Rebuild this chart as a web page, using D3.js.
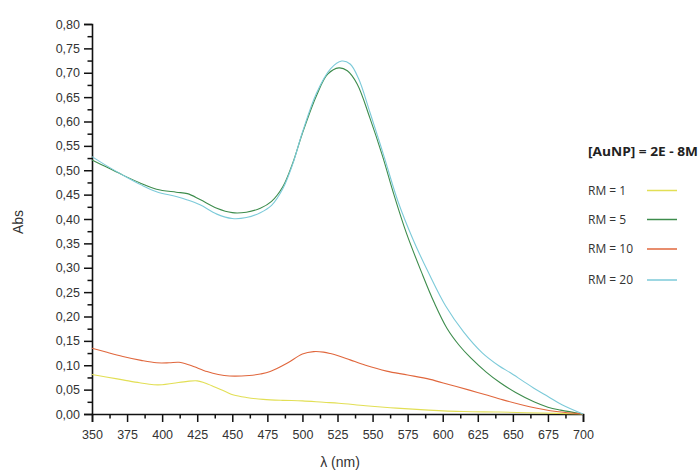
<!DOCTYPE html>
<html>
<head>
<meta charset="utf-8">
<script src="https://cdn.jsdelivr.net/npm/d3@7"></script>
<style>
  html, body { margin: 0; padding: 0; background: #fff; }
  svg { display: block; }
</style>
</head>
<body>
<svg id="chart" width="700" height="471"></svg>
<script>
// ---- data ----
const xTicks = [350, 375, 400, 425, 450, 475, 500, 525, 550, 575, 600, 625, 650, 675, 700];
const yTicks = [0, 0.05, 0.1, 0.15, 0.2, 0.25, 0.3, 0.35, 0.4, 0.45, 0.5, 0.55, 0.6, 0.65, 0.7, 0.75, 0.8];

const seriesNames = ["RM = 1", "RM = 5", "RM = 10", "RM = 20"];
const seriesColors = ["#e2df55", "#3d8c4c", "#e0673d", "#7ccad9"];

const rm1 = [[350,0.081],[360,0.076],[372,0.070],[384,0.064],[394,0.060],[400,0.060],[408,0.063],[418,0.067],[425,0.068],[430,0.064],[437,0.056],[445,0.046],[451,0.039],[460,0.034],[472,0.030],[486,0.028],[500,0.027],[515,0.024],[526,0.022],[545,0.017],[567,0.012],[590,0.008],[615,0.005],[640,0.004],[670,0.002],[700,0.000]];
const rm5 = [[350,0.521],[360,0.507],[372,0.490],[385,0.473],[396,0.461],[410,0.455],[418,0.452],[427,0.440],[439,0.422],[450,0.413],[460,0.414],[470,0.422],[478,0.436],[486,0.466],[493,0.514],[500,0.576],[510,0.653],[518,0.697],[526,0.710],[532,0.704],[539,0.677],[548,0.608],[557,0.530],[565,0.452],[574,0.372],[585,0.290],[594,0.228],[603,0.176],[612,0.140],[620,0.115],[631,0.086],[641,0.064],[652,0.044],[665,0.025],[675,0.014],[684,0.008],[700,0.000]];
const rm10 = [[350,0.135],[360,0.127],[372,0.118],[385,0.110],[396,0.105],[405,0.105],[412,0.106],[420,0.100],[432,0.087],[440,0.081],[448,0.078],[462,0.079],[470,0.082],[477,0.087],[489,0.104],[500,0.123],[508,0.128],[515,0.127],[520,0.124],[526,0.119],[534,0.111],[545,0.100],[560,0.088],[575,0.080],[591,0.071],[605,0.060],[619,0.049],[630,0.040],[643,0.029],[662,0.015],[681,0.005],[700,0.000]];
const rm20 = [[350,0.528],[360,0.510],[372,0.490],[385,0.470],[396,0.456],[410,0.446],[418,0.439],[427,0.429],[439,0.410],[450,0.401],[460,0.403],[470,0.413],[478,0.428],[486,0.462],[493,0.512],[500,0.578],[510,0.658],[520,0.708],[528,0.724],[534,0.718],[540,0.688],[548,0.620],[558,0.530],[568,0.437],[579,0.357],[590,0.289],[602,0.222],[615,0.168],[628,0.126],[640,0.099],[648,0.085],[657,0.068],[665,0.053],[675,0.036],[685,0.019],[700,0.000]];
const seriesData = [rm1, rm5, rm10, rm20];

const legendTitle = "[AuNP] = 2E - 8M";
const xTitle = "λ (nm)";
const yTitle = "Abs";

// ---- layout ----
const svg = d3.select("#chart");
const x = d3.scaleLinear().domain([350, 700]).range([92, 583]);
const y = d3.scaleLinear().domain([0, 0.8]).range([414, 24]);

const fmt = d => d3.format(".2f")(d).replace(".", ",");

// minor ticks
const xMinor = d3.range(362.5, 700, 25);
const yMinor = d3.range(0.025, 0.8, 0.05);

const gx = svg.append("g").attr("transform", "translate(0,414)");
gx.call(d3.axisBottom(x).tickValues(xMinor).tickSize(4.5).tickFormat(""));
gx.call(g => g.selectAll(".domain").remove());
const gx2 = svg.append("g").attr("transform", "translate(0,414)");
gx2.call(d3.axisBottom(x).tickValues(xTicks).tickSize(8).tickPadding(8).tickFormat(d3.format("d")));

const gy = svg.append("g").attr("transform", "translate(92,0)");
gy.call(d3.axisLeft(y).tickValues(yMinor).tickSize(4.5).tickFormat(""));
gy.call(g => g.selectAll(".domain").remove());
const gy2 = svg.append("g").attr("transform", "translate(92,0)");
gy2.call(d3.axisLeft(y).tickValues(yTicks).tickSize(8).tickPadding(4).tickFormat(fmt));

svg.selectAll(".domain").attr("stroke", "#111").attr("stroke-width", 1.6);
svg.selectAll(".tick line").attr("stroke", "#111").attr("stroke-width", 1.5);
svg.selectAll(".tick text")
  .attr("font-family", "'Liberation Sans', Arial, sans-serif")
  .attr("font-size", 12.5)
  .attr("fill", "#333");

// axis titles
svg.append("text")
  .attr("x", 340).attr("y", 467)
  .attr("text-anchor", "middle")
  .attr("font-family", "'Liberation Sans', Arial, sans-serif")
  .attr("font-size", 14).attr("fill", "#333")
  .text(xTitle);
svg.append("text")
  .attr("transform", "translate(23,222) rotate(-90)")
  .attr("text-anchor", "middle")
  .attr("font-family", "'Liberation Sans', Arial, sans-serif")
  .attr("font-size", 14).attr("fill", "#333")
  .text(yTitle);

// lines
const line = d3.line()
  .x(d => x(d[0])).y(d => y(d[1]))
  .curve(d3.curveCatmullRom.alpha(0.5));

seriesData.forEach((s, i) => {
  svg.append("path")
    .datum(s)
    .attr("fill", "none")
    .attr("stroke", seriesColors[i])
    .attr("stroke-width", 1.1)
    .attr("d", line);
});

// legend
svg.append("text")
  .attr("x", 588).attr("y", 156)
  .attr("font-family", "'Open Sans', sans-serif")
  .attr("font-weight", "bold")
  .attr("font-size", 12)
  .attr("textLength", 110)
  .attr("lengthAdjust", "spacingAndGlyphs")
  .attr("fill", "#222")
  .text(legendTitle);

const legY = [190.5, 219.5, 249, 280];
seriesNames.forEach((n, i) => {
  svg.append("text")
    .attr("x", 588).attr("y", legY[i] + 4)
    .attr("font-family", "'Open Sans', sans-serif")
    .attr("font-size", 12)
    .attr("fill", "#333")
    .text(n);
  svg.append("line")
    .attr("x1", 647).attr("x2", 677)
    .attr("y1", legY[i]).attr("y2", legY[i])
    .attr("stroke", seriesColors[i])
    .attr("stroke-width", 1.5);
});
</script>
</body>
</html>
